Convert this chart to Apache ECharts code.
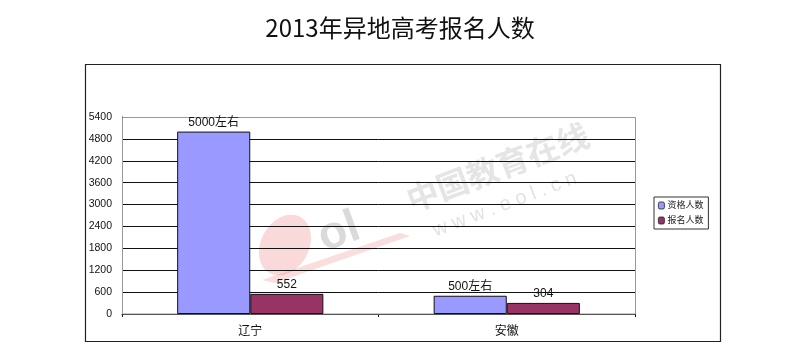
<!DOCTYPE html>
<html>
<head>
<meta charset="utf-8">
<script src="https://cdn.jsdelivr.net/npm/echarts@6/dist/echarts.min.js"></script>
<style>
html,body{margin:0;padding:0;background:#fff;}
#chart{width:800px;height:362px;}
</style>
</head>
<body>
<div id="chart"></div>
<script>
var titleText = '2013年异地高考报名人数';
var categories = ['辽宁', '安徽'];
var seriesNames = ['资格人数', '报名人数'];
var qualifiedValues = [5000, 500];
var qualifiedLabels = ['5000左右', '500左右'];
var registeredValues = [552, 304];
var registeredLabels = ['552', '304'];
var yTicks = [0, 600, 1200, 1800, 2400, 3000, 3600, 4200, 4800, 5400];

var chart = echarts.init(document.getElementById('chart'), null, {renderer: 'canvas'});
var font = 'Liberation Sans, Noto Sans CJK SC, sans-serif';

chart.setOption({
  animation: false,
  backgroundColor: '#fff',
  textStyle: {fontFamily: font},
  title: {
    text: titleText,
    left: 'center',
    top: 11,
    textStyle: {fontFamily: 'Noto Sans CJK SC, sans-serif', fontSize: 24, fontWeight: 'normal', color: '#111'}
  },
  legend: {
    orient: 'vertical',
    left: 654,
    top: 197,
    itemWidth: 6,
    itemHeight: 7,
    itemGap: 6,
    padding: [4, 5, 4, 4],
    borderColor: '#333',
    borderWidth: 1,
    textStyle: {fontSize: 9, color: '#222', padding: [0, 0, 0, -2]},
    data: seriesNames.map(function (n) { return {name: n, itemStyle: {borderColor: '#222', borderWidth: 0.8}}; })
  },
  graphic: [
    {type: 'rect', shape: {x: 85.5, y: 64.5, width: 635, height: 277}, style: {fill: 'none', stroke: '#222', lineWidth: 1.2}, z: 0},
    {type: 'rect', shape: {x: 122.5, y: 117.5, width: 513, height: 196.5}, style: {fill: 'none', stroke: '#999', lineWidth: 1}, z: 1},
    {type: 'ellipse', x: 285, y: 245, rotation: -0.5, shape: {cx: 0, cy: 0, rx: 24, ry: 32}, style: {fill: 'rgba(235,120,120,0.28)'}, z: 0},
    {type: 'polygon', shape: {points: [[262, 280], [400, 233], [410, 236], [275, 283]]}, style: {fill: 'rgba(235,120,120,0.25)'}, z: 0},
    {type: 'text', x: 312, y: 218, rotation: 0.35, style: {text: 'ol', fill: 'rgba(150,150,150,0.35)', font: 'bold 46px Liberation Sans'}, z: 0},
    {type: 'text', x: 402, y: 186, rotation: 0.36, style: {text: '中国教育在线', fill: 'rgba(160,160,160,0.28)', font: 'bold 32px Noto Sans CJK SC'}, z: 0},
    {type: 'text', x: 430, y: 222, rotation: 0.36, style: {text: 'w w w . e o l . c n', fill: 'rgba(160,160,160,0.3)', font: '20px Liberation Sans'}, z: 0}
  ],
  grid: {left: 122, right: 165, top: 117, bottom: 48},
  xAxis: {
    type: 'category',
    data: categories,
    axisLine: {lineStyle: {color: '#111', width: 1}},
    axisTick: {show: true, length: 3, lineStyle: {color: '#111'}},
    axisLabel: {fontSize: 12, color: '#111', margin: 10, fontFamily: 'Noto Sans CJK SC, sans-serif'}
  },
  yAxis: {
    type: 'value',
    min: 0, max: 5400, interval: 600,
    axisLine: {show: true, lineStyle: {color: '#111'}},
    axisTick: {show: false},
    axisLabel: {fontSize: 10.5, color: '#111', margin: 10,
      formatter: function (v) { return yTicks.indexOf(v) >= 0 ? String(v) : ''; }},
    splitLine: {lineStyle: {color: '#111', width: 1}}
  },
  series: [
    {
      name: seriesNames[0], type: 'bar', data: qualifiedValues,
      barGap: '0%', barCategoryGap: '43%',
      itemStyle: {color: '#9999FF', borderColor: '#111', borderWidth: 1},
      label: {show: true, position: 'top', distance: 3, fontSize: 12, color: '#111',
        formatter: function (p) { return qualifiedLabels[p.dataIndex]; }},
      z: 3
    },
    {
      name: seriesNames[1], type: 'bar', data: registeredValues,
      itemStyle: {color: '#993366', borderColor: '#111', borderWidth: 1},
      label: {show: true, position: 'top', distance: 3, fontSize: 12, color: '#111',
        formatter: function (p) { return registeredLabels[p.dataIndex]; }},
      z: 3
    }
  ]
});
</script>
</body>
</html>
